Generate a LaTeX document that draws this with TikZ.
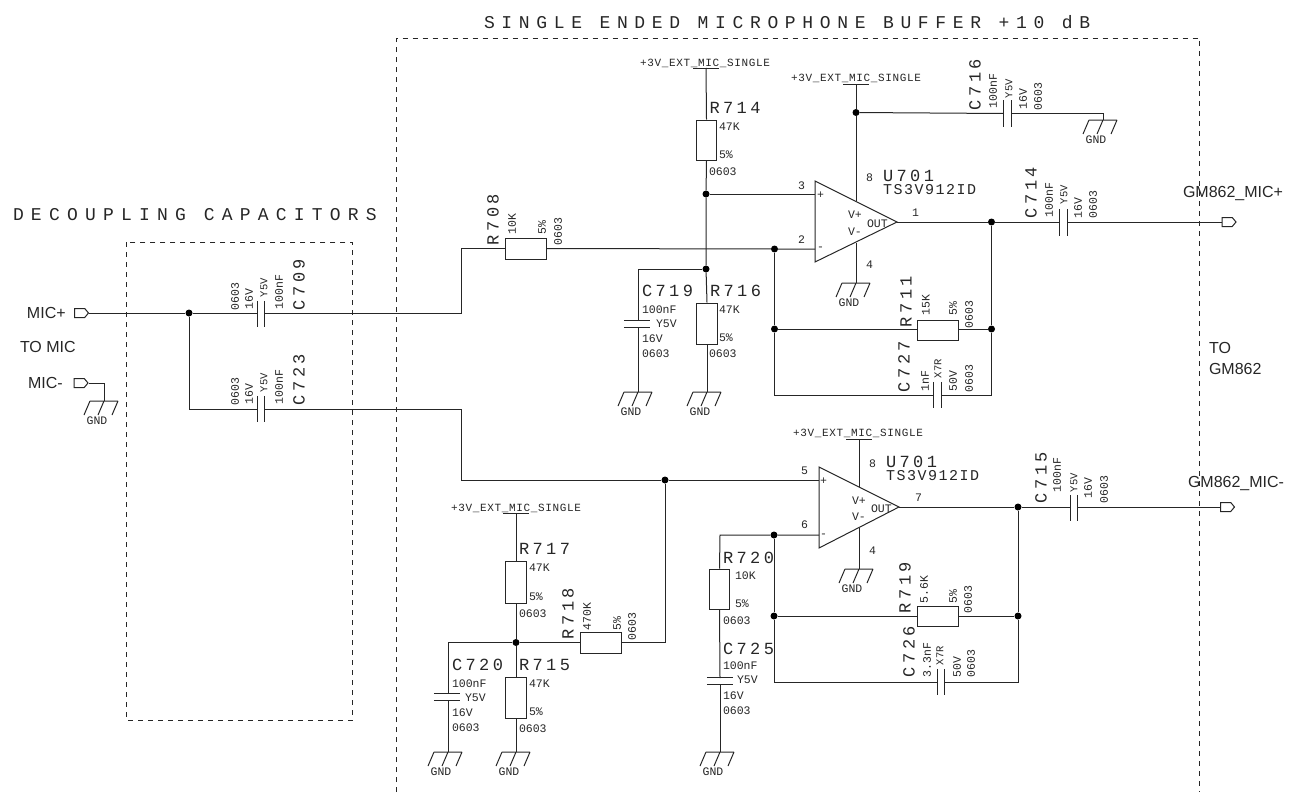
\documentclass[tikz,border=0pt]{standalone}
\usepackage{fontspec}
\usetikzlibrary{shapes.symbols}
\setmainfont{Liberation Sans}
\newfontfamily\monof{Liberation Mono}
\newfontfamily\refof[LetterSpace=20]{Liberation Mono}
\newfontfamily\partf[LetterSpace=10]{Liberation Mono}
\newfontfamily\netf[LetterSpace=6]{Liberation Mono}
\newfontfamily\titlef[LetterSpace=37]{Liberation Mono}
\newfontfamily\decof[LetterSpace=40]{Liberation Mono}
\definecolor{ink}{gray}{0.15}
\newcount\tcnt
\tikzset{
  wire/.style={draw=ink,line width=1pt},
  frame/.style={draw=ink,line width=0.8pt,dash pattern=on 5pt off 5pt},
  resbox/.style={draw=ink,line width=1pt,rectangle,inner sep=0pt,fill=none},
  capbox/.style={rectangle,inner sep=0pt,draw=none},
  dot/.style={circle,fill=black,draw=none,inner sep=0pt,minimum size=7pt},
  port/.style={signal,signal to=east,signal from=nowhere,signal pointer angle=100,draw=ink,line width=1pt,inner sep=0pt,minimum width=14pt,minimum height=9pt},
  txt/.style={inner sep=0pt,outer sep=0pt,text=ink,anchor=west},
  rtxt/.style={txt,rotate=90},
  smallf/.style={font=\monof\fontsize{11.5}{12}\selectfont},
  tinyf/.style={font=\monof\fontsize{10.5}{11}\selectfont},
  reff/.style={font=\refof\fontsize{17}{17}\selectfont},
  partff/.style={font=\partf\fontsize{15}{15}\selectfont},
  netff/.style={font=\netf\fontsize{11}{11}\selectfont},
  sansf/.style={font=\fontsize{16}{16}\selectfont},
}
% small text, horizontal and rotated
\newcommand{\sm}[3]{\global\advance\tcnt by 1 \node[txt,smallf,name=t\the\tcnt] at (#1,#2) {#3};}
\newcommand{\smr}[3]{\global\advance\tcnt by 1 \node[rtxt,smallf,name=t\the\tcnt] at (#1,#2) {#3};}
\newcommand{\tnr}[3]{\global\advance\tcnt by 1 \node[rtxt,tinyf,name=t\the\tcnt] at (#1,#2) {#3};}
\newcommand{\rf}[3]{\global\advance\tcnt by 1 \node[txt,reff,name=t\the\tcnt] at (#1,#2) {#3};}
\newcommand{\rfr}[3]{\global\advance\tcnt by 1 \node[rtxt,reff,name=t\the\tcnt] at (#1,#2) {#3};}
\newcommand{\prt}[3]{\global\advance\tcnt by 1 \node[txt,partff,name=t\the\tcnt] at (#1,#2) {#3};}
\newcommand{\snt}[3]{\global\advance\tcnt by 1 \node[txt,sansf,name=t\the\tcnt] at (#1,#2) {#3};}
% ground symbol: name, x, y of bar
\newcommand{\gnd}[3]{%
  \coordinate (#1) at (#2,#3);
  \draw[wire] ([xshift=-14pt]#1) -- ([xshift=14pt]#1)
    ([xshift=-14pt]#1) -- ([xshift=-20pt,yshift=-14pt]#1)
    (#1) -- ([xshift=-6pt,yshift=-14pt]#1)
    ([xshift=14pt]#1) -- ([xshift=8pt,yshift=-14pt]#1);
  \node[smallf,inner sep=0pt,text=ink,name=#1-t] at ([xshift=-7pt,yshift=-20pt]#1) {GND};
}
% supply: name, label x, label y, wire x, bar y
\newcommand{\pwr}[5]{%
  \coordinate (#1) at (#4,#5);
  \draw[wire] ([xshift=-13pt]#1) -- ([xshift=13pt]#1);
  \node[txt,netff,name=#1-t] at (#2,#3) {+3V\_EXT\_MIC\_SINGLE};
}
% capacitors: plates vertical (capv, wire horizontal) or horizontal (caph, wire vertical)
\newcommand{\capv}[4]{%
  \node[capbox,minimum width=#4pt,minimum height=26pt,name=#1] at (#2,#3) {};
  \draw[wire] (#1.north west) -- (#1.south west) (#1.north east) -- (#1.south east);
}
\newcommand{\caph}[4]{% name, wire x, y centre, x centre of plates
  \node[capbox,minimum width=26pt,minimum height=6pt,name=#1] at (#4,#3) {};
  \draw[wire] (#1.north west) -- (#1.north east) (#1.south west) -- (#1.south east);
  \coordinate (#1-t) at (#2,#3-3);
  \coordinate (#1-b) at (#2,#3+3);
}
\newcommand{\opamp}[6]{% name, lx, top y, bottom y, tip x, tip y
  \coordinate (#1a) at (#2,#3);
  \coordinate (#1b) at (#2,#4);
  \coordinate (#1c) at (#5,#6);
  \draw[wire,line join=miter] (#1a) -- (#1b) -- (#1c) -- cycle;
}
\begin{document}
\begin{tikzpicture}[x=1pt,y=-1pt]
\useasboundingbox (0,0) rectangle (1297,792);

% frames
\draw[frame] (396.7,792) -- (396.7,38) -- (1199.7,38) -- (1199.7,792);
\draw[frame] (126,242) rectangle (352.7,720);
\node[txt,font=\titlef\fontsize{18}{18}\selectfont,name=title] at (484,22) {SINGLE ENDED MICROPHONE BUFFER +10 dB};
\node[txt,font=\decof\fontsize{18}{18}\selectfont,name=deco] at (13,215) {DECOUPLING CAPACITORS};

% ports and left labels
\node[port,anchor=west] (pmicp) at (74,313) {};
\node[port,anchor=west] (pmicm) at (73.5,383) {};
\node[port,anchor=west] (pgmp) at (1221.5,222) {};
\node[port,anchor=west] (pgmm) at (1220,507) {};
\snt{27}{313}{MIC+}
\snt{20}{347}{TO MIC}
\snt{28}{383}{MIC-}
\snt{1209}{348}{TO}
\snt{1209}{369}{GM862}
\snt{1183}{194}{GM862\_MIC+}
\snt{1188}{483}{GM862\_MIC-}

% junctions
\node[dot] (j1) at (189,313) {};
\node[dot] (j2) at (706,194) {};
\node[dot] (j3) at (706,269) {};
\node[dot] (j4) at (774.5,249) {};
\node[dot] (j5) at (856,112.5) {};
\node[dot] (j6) at (991.5,222) {};
\node[dot] (j7) at (774.5,329) {};
\node[dot] (j8) at (991.5,329) {};
\node[dot] (j9) at (665,480) {};
\node[dot] (j10) at (516,642.5) {};
\node[dot] (j11) at (774,535) {};
\node[dot] (j12) at (774,616) {};
\node[dot] (j13) at (1018,507) {};
\node[dot] (j14) at (1018,616) {};

% resistors
\node[resbox,minimum width=41pt,minimum height=21pt] (r708) at (526,248.5) {};
\node[resbox,minimum width=20.5pt,minimum height=40pt] (r714) at (706.5,140) {};
\node[resbox,minimum width=20.5pt,minimum height=41pt] (r716) at (707,323.5) {};
\node[resbox,minimum width=41pt,minimum height=20pt] (r711) at (937.5,330) {};
\node[resbox,minimum width=20.5pt,minimum height=42pt] (r717) at (516,582) {};
\node[resbox,minimum width=20.5pt,minimum height=41pt] (r715) at (516,697.5) {};
\node[resbox,minimum width=41pt,minimum height=21pt] (r718) at (600.5,642.5) {};
\node[resbox,minimum width=20.5pt,minimum height=40pt] (r720) at (719.5,589) {};
\node[resbox,minimum width=41pt,minimum height=20pt] (r719) at (937.5,616) {};

% capacitors
\capv{c709}{261}{314}{6}
\capv{c723}{261}{409}{6}
\capv{c716}{1007.5}{113.5}{7}
\capv{c714}{1063.5}{222.5}{7}
\capv{c715}{1074}{508}{6.5}
\capv{c727}{937.5}{395}{7}
\capv{c726}{941}{682}{6.5}
\caph{c719}{638}{324}{637}
\caph{c720}{448}{697}{447}
\caph{c725}{720}{681}{720}

% op-amps
\opamp{ua}{815}{181}{262}{897}{222}
\opamp{ub}{819}{467}{548}{899}{507}

% supplies and grounds
\pwr{v1}{640}{63}{706}{68}
\pwr{v2}{791}{78}{856}{84}
\pwr{v3}{793}{433}{859}{439}
\pwr{v4}{451}{508}{516}{513}
\gnd{g1}{104}{401}
\gnd{g2}{1103}{120}
\gnd{g3}{856}{283}
\gnd{g4}{638}{392}
\gnd{g5}{707}{392}
\gnd{g6}{859}{569}
\gnd{g7}{448}{752}
\gnd{g8}{516}{752}
\gnd{g9}{720}{752}

% wires, upper channel
\draw[wire] (pmicp.east) -- (j1);
\draw[wire] (j1) -- (c709.west |- j1);
\draw[wire] (c709.east |- j1) -- (461.5,313) -- (461.5,248.5) -- (r708.west);
\draw[wire] (r708.east) -- (j4) -- (815,249);
\draw[wire] (v1) -- (r714.north);
\draw[wire] (r714.south) -- (j2) -- (j3) -- (r716.north);
\draw[wire] (j2) -- (815,194);
\draw[wire] (j3) -- (638,269) -- (c719-t);
\draw[wire] (c719-b) -- (g4);
\draw[wire] (r716.south) -- (g5);
\draw[wire] (v2) -- (j5) -- (856,201);
\draw[wire] (856,243) -- (g3);
\draw[wire] (j5) -- (c716.west);
\draw[wire] (c716.east) -- (1103,113.5) -- (g2);
\draw[wire] (uac) -- (j6) -- (c714.west |- j6);
\draw[wire] (c714.east |- j6) -- (pgmp.west);
\draw[wire] (j6) -- (j8) -- (991.5,395) -- (c727.east);
\draw[wire] (j4) -- (j7) -- (774.5,395) -- (c727.west);
\draw[wire] (j7) -- (r711.west |- j7);
\draw[wire] (r711.east |- j8) -- (j8);

% wires, lower channel
\draw[wire] (j1) -- (189,409) -- (c723.west);
\draw[wire] (c723.east) -- (461.5,409) -- (461.5,480) -- (j9) -- (819,480);
\draw[wire] (pmicm.east) -- (104,383) -- (g1);
\draw[wire] (v4) -- (r717.north);
\draw[wire] (r717.south) -- (j10) -- (r715.north);
\draw[wire] (r715.south) -- (g8);
\draw[wire] (j10) -- (448,642.5) -- (c720-t);
\draw[wire] (c720-b) -- (g7);
\draw[wire] (j10) -- (r718.west);
\draw[wire] (r718.east) -- (665,642.5) -- (j9);
\draw[wire] (v3) -- (859,487);
\draw[wire] (859,528) -- (g6);
\draw[wire] (819,535) -- (j11) -- (720,535) -- (r720.north);
\draw[wire] (r720.south) -- (c725-t);
\draw[wire] (c725-b) -- (g9);
\draw[wire] (ubc) -- (j13) -- (c715.west |- j13);
\draw[wire] (c715.east |- j13) -- (pgmm.west);
\draw[wire] (j11) -- (j12) -- (774,682) -- (c726.west);
\draw[wire] (c726.east) -- (1018,682) -- (j14) -- (j13);
\draw[wire] (j12) -- (r719.west);
\draw[wire] (r719.east) -- (j14);

% labels: C709, C723
\smr{235}{310}{0603}\smr{249}{309}{16V}\tnr{264}{297}{Y5V}\smr{279}{309}{100nF}\rfr{299}{310}{C709}
\smr{235}{405}{0603}\smr{249}{404}{16V}\tnr{264}{392}{Y5V}\smr{279}{404}{100nF}\rfr{299}{405}{C723}
% R708
\rfr{493}{245}{R708}\smr{512}{234}{10K}\smr{542}{234}{5\%}\smr{558}{245}{0603}
% R714
\rf{709.5}{108}{R714}\sm{719}{127}{47K}\sm{719}{155}{5\%}\sm{709}{172}{0603}
% C719
\rf{642}{291}{C719}\sm{642}{310}{100nF}\sm{656}{324}{Y5V}\sm{642}{339}{16V}\sm{642}{354}{0603}
% R716
\rf{710}{291}{R716}\sm{719}{310}{47K}\sm{719}{338}{5\%}\sm{709}{354}{0603}
% op-amp A
\sm{798}{186}{3}\sm{798}{240}{2}\sm{866}{178}{8}\sm{866}{265}{4}\sm{912}{213}{1}
\sm{848}{215}{V+}\sm{848}{232}{V-}\sm{867}{224}{OUT}\sm{817}{195}{+}\sm{817}{249}{-}
\rf{883}{176}{U701}\prt{883}{190}{TS3V912ID}
% C716, C714
\rfr{975}{110}{C716}\smr{993}{108}{100nF}\tnr{1009}{98}{Y5V}\smr{1023}{109}{16V}\smr{1038}{110}{0603}
\rfr{1031}{218}{C714}\smr{1049}{217}{100nF}\tnr{1064}{204}{Y5V}\smr{1078}{218}{16V}\smr{1093}{218}{0603}
% R711, C727
\rfr{906}{327}{R711}\smr{926}{315}{15K}\smr{953}{315}{5\%}\smr{969}{328}{0603}
\rfr{904}{392}{C727}\smr{925}{391}{1nF}\tnr{938}{378}{X7R}\smr{953}{391}{50V}\smr{969}{392}{0603}
% op-amp B
\sm{801}{471}{5}\sm{801}{525}{6}\sm{869}{464}{8}\sm{869}{551}{4}\sm{915}{498}{7}
\sm{852}{501}{V+}\sm{852}{517}{V-}\sm{871}{509}{OUT}\sm{820}{481}{+}\sm{820}{536}{-}
\rf{886}{462}{U701}\prt{886}{476}{TS3V912ID}
% C715
\rfr{1041}{503}{C715}\smr{1057}{492}{100nF}\tnr{1074}{492}{Y5V}\smr{1088}{498}{16V}\smr{1104}{503}{0603}
% R719, C726
\rfr{905}{613}{R719}\smr{924}{603}{5.6K}\smr{953}{603}{5\%}\smr{968}{613}{0603}
\rfr{909}{677}{C726}\smr{927}{677}{3.3nF}\tnr{940}{665}{X7R}\smr{957}{677}{50V}\smr{971}{677}{0603}
% R720, C725
\rf{723}{558}{R720}\sm{735}{576}{10K}\sm{735}{604}{5\%}\sm{723}{621}{0603}
\rf{723}{649}{C725}\sm{723}{666}{100nF}\sm{737}{680}{Y5V}\sm{723}{696}{16V}\sm{723}{711}{0603}
% R717, R715, R718, C720
\rf{519}{549}{R717}\sm{529}{568}{47K}\sm{529}{597}{5\%}\sm{519}{614}{0603}
\rf{519}{665}{R715}\sm{529}{684}{47K}\sm{529}{712}{5\%}\sm{519}{729}{0603}
\rfr{568}{639}{R718}\smr{587}{630}{470K}\smr{617}{630}{5\%}\smr{632}{640}{0603}
\rf{452}{665}{C720}\sm{452}{684}{100nF}\sm{465}{698}{Y5V}\sm{452}{713}{16V}\sm{452}{728}{0603}
\end{tikzpicture}
\end{document}
